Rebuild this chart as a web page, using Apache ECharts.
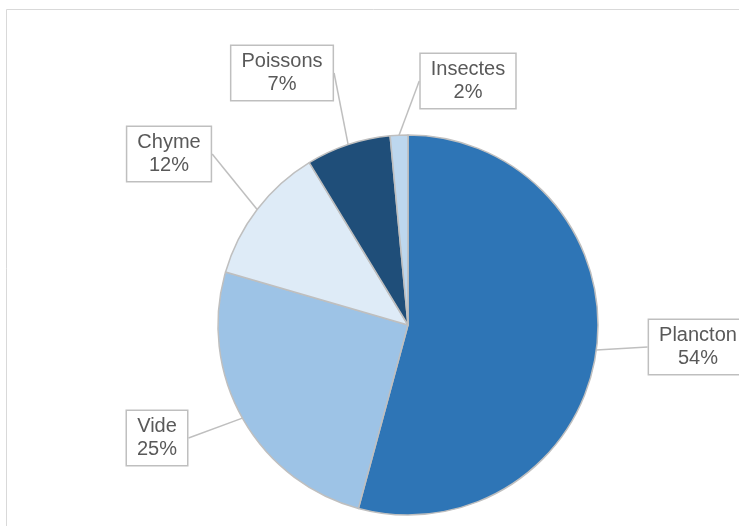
<!DOCTYPE html>
<html>
<head>
<meta charset="utf-8">
<script src="https://cdn.jsdelivr.net/npm/echarts@6/dist/echarts.min.js"></script>
<style>html,body{margin:0;padding:0;background:#fff;}#c{width:739px;height:526px;}</style>
</head>
<body>
<div id="c"></div>
<script>
var categories = ['Plancton', 'Vide', 'Chyme', 'Poissons', 'Insectes'];
var values = [54.2, 25.3, 11.8, 7.2, 1.5];
var colors = ['#2E75B6', '#9DC3E6', '#DEEBF7', '#1F4E79', '#BDD7EE'];
var labelCenters = [[698, 347], [157, 438], [169, 154], [282, 73], [468, 81]];

var chart = echarts.init(document.getElementById('c'), null, {renderer: 'canvas'});
chart.setOption({
  backgroundColor: '#ffffff',
  animation: false,
  graphic: [{
    type: 'rect', shape: {x: 6.5, y: 9.5, width: 800, height: 600},
    style: {fill: 'none', stroke: '#D9D9D9', lineWidth: 1}, silent: true
  }],
  series: [{
    type: 'pie',
    center: [408, 325],
    radius: 190,
    startAngle: 90,
    clockwise: true,
    percentPrecision: 0,
    data: categories.map(function (c, i) {
      return {name: c, value: values[i], itemStyle: {color: colors[i]}};
    }),
    itemStyle: {borderColor: '#BFBFBF', borderWidth: 1.5},
    emphasis: {disabled: true},
    label: {
      show: true,
      formatter: '{b}\n{d}%',
      fontFamily: 'Liberation Sans, Arial, sans-serif',
      fontSize: 20,
      lineHeight: 23,
      color: '#595959',
      align: 'center',
      backgroundColor: '#ffffff',
      borderColor: '#BFBFBF',
      borderWidth: 1.5,
      padding: [4, 10, 4, 10]
    },
    labelLine: {show: true, length: 8, length2: 0, lineStyle: {color: '#BFBFBF', width: 1.5}},
    labelLayout: function (p) {
      var c = labelCenters[p.dataIndex];
      return {x: c[0], y: c[1], align: 'center', verticalAlign: 'middle'};
    }
  }]
});
</script>
</body>
</html>
